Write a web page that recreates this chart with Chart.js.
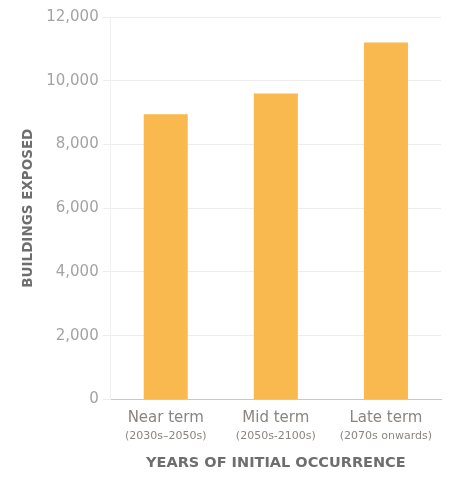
<!DOCTYPE html>
<html>
<head>
<meta charset="utf-8">
<script src="https://cdn.jsdelivr.net/npm/chart.js@4"></script>
<style>
  html, body { margin: 0; padding: 0; background: #fff; }
  #wrap { width: 449px; height: 480px; }
</style>
</head>
<body>
<div id="wrap"><canvas id="exposureChart"></canvas></div>
<script>
const terms = ["Near term", "Mid term", "Late term"];
const periods = ["(2030s\u20132050s)", "(2050s-2100s)", "(2070s onwards)"];
const buildings = [8950, 9600, 11200];
const yTicks = [0, 2000, 4000, 6000, 8000, 10000, 12000];

const font = "'DejaVu Sans', sans-serif";

new Chart(document.getElementById("exposureChart"), {
  type: "bar",
  data: {
    labels: terms,
    datasets: [{
      label: "Buildings exposed",
      data: buildings,
      backgroundColor: "#f9b94f",
      barPercentage: 0.4,
      categoryPercentage: 1
    }]
  },
  options: {
    responsive: true,
    maintainAspectRatio: false,
    animation: false,
    layout: { padding: { top: 17, right: 8, left: 20, bottom: 8 } },
    plugins: {
      legend: { display: false },
      tooltip: { enabled: false }
    },
    scales: {
      x: {
        grid: { display: false },
        border: { color: "#c8c8c8" },
        ticks: { color: "#8a8580", font: { family: font, size: 15 }, padding: 2 }
      },
      x2: {
        type: "category",
        labels: periods,
        position: "bottom",
        grid: { display: false, drawTicks: false },
        border: { display: false },
        ticks: { color: "#8a8580", font: { family: font, size: 11 }, padding: 0 },
        title: {
          display: true,
          text: "YEARS OF INITIAL OCCURRENCE",
          color: "#6e6e6e",
          font: { family: font, size: 14.5, weight: "bold" },
          padding: { top: 12, bottom: 0 }
        }
      },
      y: {
        min: 0,
        max: 12000,
        afterBuildTicks: axis => { axis.ticks = yTicks.map(v => ({ value: v })); },
        grid: { color: "#ededed", tickLength: 8 },
        border: { color: "#f0f0f0" },
        ticks: {
          color: "#a3a3a3",
          font: { family: font, size: 15 },
          padding: 4,
          callback: v => v.toLocaleString("en-US")
        },
        title: {
          display: true,
          text: "BUILDINGS EXPOSED",
          color: "#6e6e6e",
          font: { family: font, size: 13.5, weight: "bold" },
          padding: { top: 0, bottom: 6 }
        }
      }
    }
  }
});
</script>
</body>
</html>
